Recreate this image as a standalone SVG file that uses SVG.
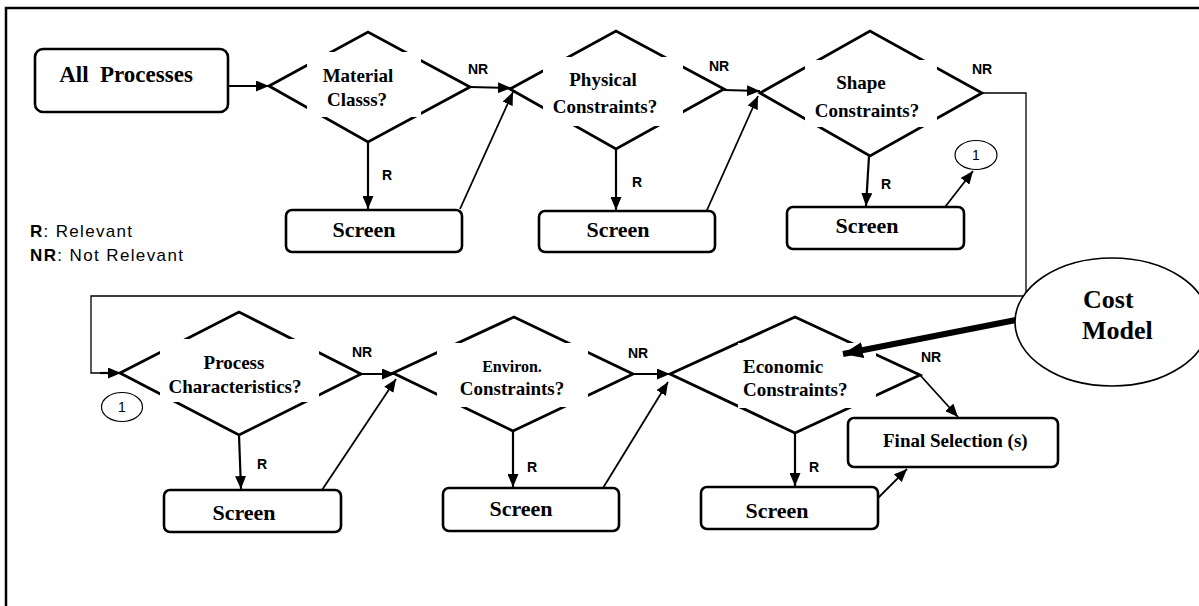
<svg xmlns="http://www.w3.org/2000/svg" width="1199" height="606" viewBox="0 0 1199 606">
<style>
.box{fill:#fff;stroke:#000;stroke-width:2.6}
.dia{fill:#fff;stroke:#000;stroke-width:2.8;stroke-linejoin:miter}
.gap{fill:#fff;stroke:none}
.tb{font-family:"Liberation Serif","Times New Roman",serif;font-weight:bold;fill:#000}
.dt{font-size:19px;text-anchor:middle}
.st{font-size:22px;text-anchor:middle}
.lb{font-family:"Liberation Sans",Arial,sans-serif;font-weight:bold;font-size:14px;fill:#000}
.ln{fill:none;stroke:#000;stroke-width:2.2}
.thin{fill:none;stroke:#000;stroke-width:1.8}
.loop{fill:none;stroke:#000;stroke-width:1.3}
.cir{fill:#fff;stroke:#000;stroke-width:1.2}
.one{font-family:"Liberation Sans",Arial,sans-serif;font-size:14px;text-anchor:middle;fill:#000}
</style>
<defs>
<marker id="ah" markerWidth="13" markerHeight="11" refX="13" refY="5.5" orient="auto" markerUnits="userSpaceOnUse"><path d="M0,0 L13,5.5 L0,11 z" fill="#000"/></marker>
<marker id="big" markerWidth="20" markerHeight="16" refX="20" refY="8" orient="auto" markerUnits="userSpaceOnUse"><path d="M0,0 L20,8 L0,16 z" fill="#000"/></marker>
</defs>
<rect x="0" y="0" width="1199" height="606" fill="#fff"/>
<path d="M6,606 L6,8 L1199,8" fill="none" stroke="#000" stroke-width="2.5"/>

<g id="all-processes">
<rect class="box" x="35" y="49" width="193" height="63" rx="8"/>
<text class="tb" x="126" y="82" font-size="23" text-anchor="middle" xml:space="preserve">All  Processes</text>
</g>

<g id="d-material">
<polygon class="dia" points="269,86 368,32 470,87 368,142"/>
<rect class="gap" x="307" y="52" width="114" height="65"/>
<text class="tb dt" x="358" y="82">Material</text>
<text class="tb dt" x="357" y="106">Classs?</text>
</g>
<g id="d-physical">
<polygon class="dia" points="510,89 616,31 724,89 616,149"/>
<rect class="gap" x="543" y="57" width="140" height="69"/>
<text class="tb dt" x="603" y="86">Physical</text>
<text class="tb dt" x="605" y="113">Constraints?</text>
</g>
<g id="d-shape">
<polygon class="dia" points="760,93 870,31 982,93 870,156"/>
<rect class="gap" x="805" y="60" width="132" height="67"/>
<text class="tb dt" x="861" y="89">Shape</text>
<text class="tb dt" x="867" y="117">Constraints?</text>
</g>
<g id="d-process">
<polygon class="dia" points="120,373 239,312 361,374 239,435"/>
<rect class="gap" x="160" y="339" width="159" height="63"/>
<text class="tb dt" x="234" y="369">Process</text>
<text class="tb dt" x="235" y="393">Characteristics?</text>
</g>
<g id="d-environ">
<polygon class="dia" points="393,373 514,317 633,374 513,431"/>
<rect class="gap" x="437" y="343" width="151" height="64"/>
<text class="tb" x="512" y="372" font-size="16" text-anchor="middle">Environ.</text>
<text class="tb dt" x="512" y="395">Constraints?</text>
</g>
<g id="d-economic">
<polygon class="dia" points="670,374 795,317 920,375 795,433"/>
<rect class="gap" x="738" y="343" width="138" height="65"/>
<text class="tb" x="743" y="373" font-size="19">Economic</text>
<text class="tb" x="743" y="396" font-size="19">Constraints?</text>
</g>

<g id="screen-1"><rect class="box" x="286" y="210" width="176" height="42" rx="6"/><text class="tb st" x="364" y="237">Screen</text></g>
<g id="screen-2"><rect class="box" x="539" y="211" width="176" height="41" rx="6"/><text class="tb st" x="618" y="237">Screen</text></g>
<g id="screen-3"><rect class="box" x="787" y="207" width="177" height="42" rx="6"/><text class="tb st" x="867" y="233">Screen</text></g>
<g id="screen-4"><rect class="box" x="164" y="490" width="177" height="42" rx="6"/><text class="tb st" x="244" y="520">Screen</text></g>
<g id="screen-5"><rect class="box" x="443" y="488" width="176" height="43" rx="6"/><text class="tb st" x="521" y="516">Screen</text></g>
<g id="screen-6"><rect class="box" x="701" y="487" width="177" height="42" rx="6"/><text class="tb st" x="777" y="518">Screen</text></g>

<g id="final-selection">
<rect class="box" x="848" y="418" width="210" height="49" rx="6"/>
<text class="tb" x="883" y="447" font-size="19">Final Selection (s)</text>
</g>

<g id="connector-1a"><ellipse class="cir" cx="976" cy="155" rx="21" ry="14.5"/><text class="one" x="976" y="160">1</text></g>
<g id="connector-1b"><ellipse class="cir" cx="122" cy="407" rx="20.5" ry="14.5"/><text class="one" x="122" y="412">1</text></g>

<g id="legend" font-family="'Liberation Sans',Arial,sans-serif" font-size="17" fill="#000">
<text x="30" y="237" textLength="102" lengthAdjust="spacing"><tspan font-weight="bold">R</tspan>: Relevant</text>
<text x="30" y="261" textLength="153" lengthAdjust="spacing"><tspan font-weight="bold">NR</tspan>: Not Relevant</text>
</g>

<g id="connectors">
<line class="ln" x1="228" y1="86" x2="269" y2="86" marker-end="url(#ah)"/>
<line class="ln" x1="470" y1="87" x2="511" y2="88" marker-end="url(#ah)"/>
<line class="ln" x1="724" y1="90" x2="760" y2="91" marker-end="url(#ah)"/>
<polyline class="loop" points="982,93 1026,93 1026,296 91,296 91,373 110,373"/>
<line class="ln" x1="100" y1="373" x2="121" y2="373" marker-end="url(#ah)"/>
<line class="ln" x1="361" y1="374" x2="395" y2="374" marker-end="url(#ah)"/>
<line class="ln" x1="633" y1="374" x2="670" y2="374" marker-end="url(#ah)"/>

<line class="ln" x1="368" y1="142" x2="368" y2="209" marker-end="url(#ah)"/>
<line class="ln" x1="616" y1="149" x2="616" y2="210" marker-end="url(#ah)"/>
<line class="ln" x1="869" y1="156" x2="866" y2="206" marker-end="url(#ah)"/>
<line class="ln" x1="239" y1="435" x2="241" y2="489" marker-end="url(#ah)"/>
<line class="ln" x1="513" y1="431" x2="513" y2="487" marker-end="url(#ah)"/>
<line class="ln" x1="795" y1="433" x2="795" y2="486" marker-end="url(#ah)"/>

<line class="thin" x1="460" y1="209" x2="513" y2="92" marker-end="url(#ah)"/>
<line class="thin" x1="707" y1="210" x2="758" y2="96" marker-end="url(#ah)"/>
<line class="thin" x1="945" y1="207" x2="973" y2="171" marker-end="url(#ah)"/>
<line class="thin" x1="322" y1="490" x2="396" y2="379" marker-end="url(#ah)"/>
<line class="thin" x1="603" y1="488" x2="668" y2="382" marker-end="url(#ah)"/>
<line class="thin" x1="878" y1="498" x2="907" y2="469" marker-end="url(#ah)"/>
<line class="thin" x1="920" y1="375" x2="958" y2="417" marker-end="url(#ah)"/>

<line x1="1016" y1="320" x2="843" y2="354" stroke="#000" stroke-width="6" marker-end="url(#big)"/>

<text class="lb" x="382" y="180">R</text>
<text class="lb" x="632" y="187">R</text>
<text class="lb" x="881" y="189">R</text>
<text class="lb" x="257" y="469">R</text>
<text class="lb" x="527" y="472">R</text>
<text class="lb" x="809" y="472">R</text>
<text class="lb" x="468" y="74">NR</text>
<text class="lb" x="709" y="71">NR</text>
<text class="lb" x="972" y="74">NR</text>
<text class="lb" x="352" y="357">NR</text>
<text class="lb" x="628" y="358">NR</text>
<text class="lb" x="921" y="362">NR</text>
</g>

<g id="cost-model">
<ellipse cx="1112" cy="322" rx="97" ry="64" fill="#fff" stroke="#000" stroke-width="1.6"/>
<text class="tb" x="1083" y="308" font-size="26">Cost</text>
<text class="tb" x="1082" y="339" font-size="26">Model</text>
</g>
</svg>
